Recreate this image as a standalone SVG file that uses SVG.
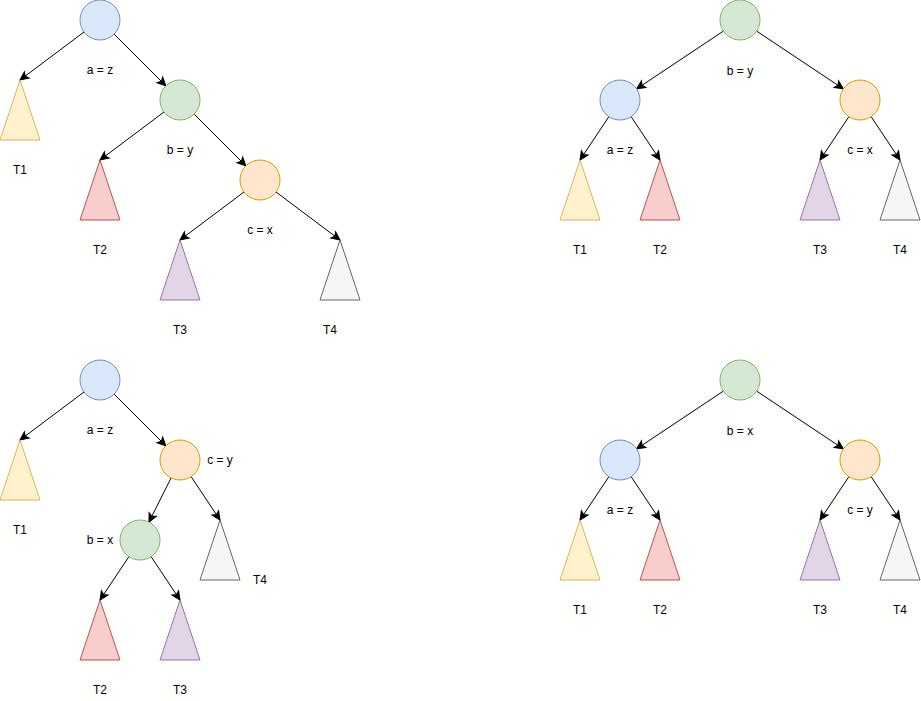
<svg xmlns="http://www.w3.org/2000/svg" width="921" height="701" viewBox="0 0 921 701">
<defs>
<marker id="arr" markerUnits="userSpaceOnUse" markerWidth="12" markerHeight="12" viewBox="-10 -6 12 12" refX="0" refY="0" orient="auto">
<path d="M-8.5,-4 L0,0 L-8.5,4 L-6.5,0 Z" fill="#000" stroke="#000" stroke-width="1" stroke-linejoin="miter"/>
</marker>
</defs>
<style>
.blue{fill:#dae8fc;stroke:#6c8ebf;stroke-width:1}
.green{fill:#d5e8d4;stroke:#82b366;stroke-width:1}
.orange{fill:#ffe6cc;stroke:#d79b00;stroke-width:1}
.yellow{fill:#fff2cc;stroke:#d6b656;stroke-width:1}
.red{fill:#f8cecc;stroke:#b85450;stroke-width:1}
.purple{fill:#e1d5e7;stroke:#9673a6;stroke-width:1}
.grey{fill:#f5f5f5;stroke:#666666;stroke-width:1}
.edge line{stroke:#000;stroke-width:1;fill:none;marker-end:url(#arr)}
text{font-family:"Liberation Sans",Arial,Helvetica,sans-serif;font-size:12px;fill:#000;text-anchor:middle;dominant-baseline:central}
</style>
<rect width="921" height="701" fill="#fff"/>

<!-- Quadrant 1 -->
<g id="q1-edges" class="edge">
<line x1="84" y1="32" x2="20" y2="80"/>
<line x1="114.1" y1="34.1" x2="165.9" y2="85.9"/>
<line x1="164" y1="112" x2="100" y2="160"/>
<line x1="194.1" y1="114.1" x2="245.9" y2="165.9"/>
<line x1="244" y1="192" x2="180" y2="240"/>
<line x1="276" y1="192" x2="340" y2="240"/>
</g>
<g id="q1-a"><circle class="blue" cx="100" cy="20" r="20"/></g>
<g id="q1-b"><circle class="green" cx="180" cy="100" r="20"/></g>
<g id="q1-c"><circle class="orange" cx="260" cy="180" r="20"/></g>
<g id="q1-t1"><polygon class="yellow" points="20,80 40,140 0,140"/><text x="20" y="170">T1</text></g>
<g id="q1-t2"><polygon class="red" points="100,160 120,220 80,220"/><text x="100" y="250">T2</text></g>
<g id="q1-t3"><polygon class="purple" points="180,240 200,300 160,300"/><text x="180" y="330">T3</text></g>
<g id="q1-t4"><polygon class="grey" points="340,240 360,300 320,300"/><text x="330" y="330">T4</text></g>
<g id="q1-labels">
<text x="100" y="70">a = z</text>
<text x="180" y="150">b = y</text>
<text x="260" y="230">c = x</text>
</g>

<!-- Quadrant 2 -->
<g id="q2-edges" class="edge">
<line x1="723.4" y1="31.1" x2="636.6" y2="88.9"/>
<line x1="756.6" y1="31.1" x2="843.4" y2="88.9"/>
<line x1="608.9" y1="116.6" x2="580" y2="160"/>
<line x1="631.1" y1="116.6" x2="660" y2="160"/>
<line x1="848.9" y1="116.6" x2="820" y2="160"/>
<line x1="871.1" y1="116.6" x2="900" y2="160"/>
</g>
<g id="q2-b"><circle class="green" cx="740" cy="20" r="20"/></g>
<g id="q2-a"><circle class="blue" cx="620" cy="100" r="20"/></g>
<g id="q2-c"><circle class="orange" cx="860" cy="100" r="20"/></g>
<g id="q2-t1"><polygon class="yellow" points="580,160 600,220 560,220"/><text x="580" y="250">T1</text></g>
<g id="q2-t2"><polygon class="red" points="660,160 680,220 640,220"/><text x="660" y="250">T2</text></g>
<g id="q2-t3"><polygon class="purple" points="820,160 840,220 800,220"/><text x="820" y="250">T3</text></g>
<g id="q2-t4"><polygon class="grey" points="900,160 920,220 880,220"/><text x="900" y="250">T4</text></g>
<g id="q2-labels">
<text x="740" y="71">b = y</text>
<text x="620" y="150">a = z</text>
<text x="860" y="150">c = x</text>
</g>

<!-- Quadrant 3 -->
<g id="q3-edges" class="edge">
<line x1="84" y1="392" x2="20" y2="440"/>
<line x1="114.1" y1="394.1" x2="165.9" y2="445.9"/>
<line x1="171.1" y1="477.9" x2="148.9" y2="522.1"/>
<line x1="191.1" y1="476.6" x2="220" y2="520"/>
<line x1="128.9" y1="556.6" x2="100" y2="600"/>
<line x1="151.1" y1="556.6" x2="180" y2="600"/>
</g>
<g id="q3-a"><circle class="blue" cx="100" cy="380" r="20"/></g>
<g id="q3-c"><circle class="orange" cx="180" cy="460" r="20"/></g>
<g id="q3-b"><circle class="green" cx="140" cy="540" r="20"/></g>
<g id="q3-t1"><polygon class="yellow" points="20,440 40,500 0,500"/><text x="20" y="530">T1</text></g>
<g id="q3-t4"><polygon class="grey" points="220,520 240,580 200,580"/><text x="260" y="580">T4</text></g>
<g id="q3-t2"><polygon class="red" points="100,600 120,660 80,660"/><text x="100" y="690">T2</text></g>
<g id="q3-t3"><polygon class="purple" points="180,600 200,660 160,660"/><text x="180" y="690">T3</text></g>
<g id="q3-labels">
<text x="100" y="430">a = z</text>
<text x="220" y="460">c = y</text>
<text x="100" y="540">b = x</text>
</g>

<!-- Quadrant 4 -->
<g id="q4-edges" class="edge">
<line x1="723.4" y1="391.1" x2="636.6" y2="448.9"/>
<line x1="756.6" y1="391.1" x2="843.4" y2="448.9"/>
<line x1="608.9" y1="476.6" x2="580" y2="520"/>
<line x1="631.1" y1="476.6" x2="660" y2="520"/>
<line x1="848.9" y1="476.6" x2="820" y2="520"/>
<line x1="871.1" y1="476.6" x2="900" y2="520"/>
</g>
<g id="q4-b"><circle class="green" cx="740" cy="380" r="20"/></g>
<g id="q4-a"><circle class="blue" cx="620" cy="460" r="20"/></g>
<g id="q4-c"><circle class="orange" cx="860" cy="460" r="20"/></g>
<g id="q4-t1"><polygon class="yellow" points="580,520 600,580 560,580"/><text x="580" y="610">T1</text></g>
<g id="q4-t2"><polygon class="red" points="660,520 680,580 640,580"/><text x="660" y="610">T2</text></g>
<g id="q4-t3"><polygon class="purple" points="820,520 840,580 800,580"/><text x="820" y="610">T3</text></g>
<g id="q4-t4"><polygon class="grey" points="900,520 920,580 880,580"/><text x="900" y="610">T4</text></g>
<g id="q4-labels">
<text x="740" y="431">b = x</text>
<text x="620" y="510">a = z</text>
<text x="860" y="510">c = y</text>
</g>
</svg>
